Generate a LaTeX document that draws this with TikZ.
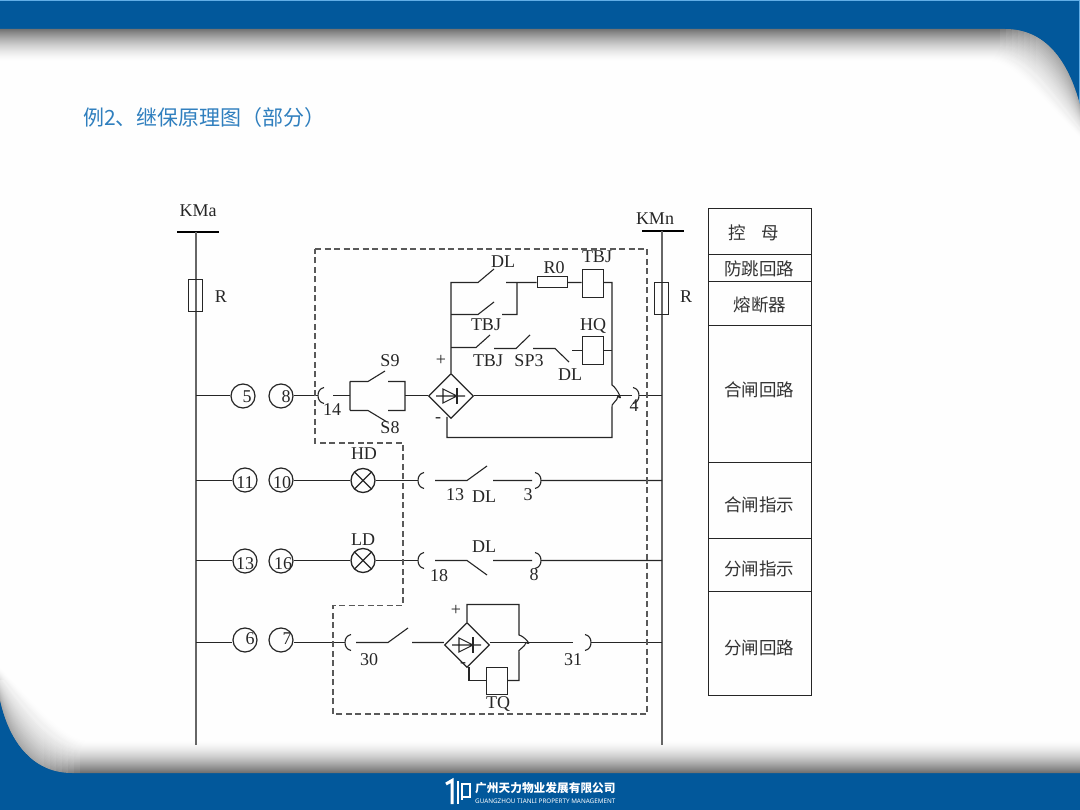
\documentclass[tikz,border=0pt]{standalone}
\usepackage{fontspec}
\setmainfont{Liberation Serif}
\newfontfamily\cjk{Noto Sans CJK SC}
\newfontfamily\latn{Noto Sans}
\usetikzlibrary{shapes.geometric, positioning, calc}
\definecolor{slideblue}{HTML}{02589B}
\definecolor{slideedge}{HTML}{62AEE6}
\definecolor{titleblue}{HTML}{2F7FBE}
\definecolor{wirecol}{HTML}{262626}
\tikzset{
  wire/.style={draw=wirecol, line width=1.1pt},
  rail/.style={draw=black!60, line width=1.6pt},
  boundary/.style={draw=black!65, line width=1.1pt, dash pattern=on 6pt off 3.5pt},
  busbar/.style={fill=black, inner sep=0pt, minimum width=42pt, minimum height=2.6pt},
  fuse/.style={draw=wirecol, line width=1pt, inner sep=0pt, minimum width=14pt, minimum height=32pt},
  relay/.style={draw=wirecol, line width=1pt, inner sep=0pt, minimum width=21pt, minimum height=28pt},
  res/.style={draw=wirecol, line width=1pt, inner sep=0pt, minimum width=30pt, minimum height=11pt},
  txt/.style={text=black!85, inner sep=0pt, font=\fontsize{18}{19}\selectfont},
  cnlabel/.style={text=black!80, inner sep=0pt, font=\cjk\fontsize{17.5}{18}\selectfont},
  tabrow/.style={draw=wirecol, line width=1pt, inner sep=0pt, minimum width=103pt},
  term/.style={circle, draw=wirecol, line width=1.2pt, inner sep=0pt, minimum size=24pt},
  lamp/.style={circle, draw=wirecol, line width=1.3pt, inner sep=0pt, minimum size=24pt, path picture={
    \draw[wirecol, line width=1.3pt] (path picture bounding box.north west) -- (path picture bounding box.south east)
      (path picture bounding box.south west) -- (path picture bounding box.north east);}},
  bridge/.style={diamond, draw=wirecol, line width=1.2pt, inner sep=0pt, minimum size=45pt, path picture={
    \draw[wirecol, line width=1.1pt, shift={(path picture bounding box.center)}]
      (-8,-7) -- (-8,7) -- (6,0) -- cycle (-15,0) -- (14,0);
    \draw[wirecol, line width=2.6pt, shift={(path picture bounding box.center)}] (6,-8) -- (6,8);}},
}
\begin{document}
\begin{tikzpicture}[x=1pt, y=-1pt]
\useasboundingbox (0,0) rectangle (1080,810);

% Slide background
\fill[slideblue] (0,0) rectangle (1080,810);
\fill[slideedge] (0,0) rectangle (1080,1.5);
\fill[slideedge] (1078.8,0) rectangle (1080,105);
\foreach \i [evaluate=\i as \s using {55*(1-\i/33)^1.6}] in {0,...,32} {
  \fill[black!\s]
    (0,29+\i) -- ({1005-.5*\i},29+\i)
    .. controls ({1045-\i},29+\i) and ({1068-\i},60+\i) .. (1080,105+\i)
    -- (1080,773-\i) -- ({72+.5*\i},773-\i)
    .. controls ({35+\i},773-\i) and ({10+\i},745-\i) .. (0,700-\i) -- cycle;
}
% Lighter shadow in the two round corners
\begin{scope}
  \clip (0,29) -- (1005,29) .. controls (1045,29) and (1068,60) .. (1080,105)
    -- (1080,773) -- (72,773) .. controls (35,773) and (10,745) .. (0,700) -- cycle;
  \foreach \j in {0,...,6} {
    \fill[white, opacity=.07] ({1000+6*\j},29) rectangle (1080,150);
    \fill[white, opacity=.07] (0,680) rectangle ({80-6*\j},773);
  }
\end{scope}

% Title and footer
\node[anchor=west, inner sep=0pt, text=titleblue, font=\cjk\fontsize{21}{22}\selectfont] (title) at (83,118) {例2、继保原理图（部分）};
\draw[white, line width=3pt] (446,784) -- (452,780.5) -- (452,804);
\draw[white, line width=2.6pt] (458,781) -- (458,804);
\draw[white, line width=2.4pt] (463,797) -- (470,797) -- (470,784) -- (462,784) -- (462,800);
\node[anchor=west, inner sep=0pt, text=white, font=\cjk\bfseries\fontsize{11.7}{12}\selectfont] (company) at (475,788.5) {广州天力物业发展有限公司};
\node[anchor=west, inner sep=0pt, text=white, font=\latn\bfseries\fontsize{6.3}{7}\selectfont] (companyen) at (475,801) {GUANGZHOU TIANLI PROPERTY MANAGEMENT};

% Bus bars and rails
\node[busbar] (kma) at (197.5,232) {};
\node[busbar] (kmn) at (662.5,231) {};
\coordinate (kmaEnd) at (196,745);
\coordinate (kmnEnd) at (662,745);
\draw[rail] (kma.center -| kmaEnd) -- (kmaEnd);
\draw[rail] (kmn.center -| kmnEnd) -- (kmnEnd);
\node[fuse] (fuseA) at (195.5,296) {};
\node[fuse] (fuseN) at (661.5,298.5) {};
\node[txt] (lblKMa) at (198,211) {KMa};
\node[txt] (lblKMn) at (655,219) {KMn};
\node[txt] (lblRa) at (221,297) {R};
\node[txt] (lblRn) at (686,297) {R};

% Side table
\node[tabrow, minimum height=46pt] (tab1) at (759.5,231.5) {};
\node[tabrow, minimum height=27pt] (tab2) at (759.5,268) {};
\node[tabrow, minimum height=44pt] (tab3) at (759.5,303.5) {};
\node[tabrow, minimum height=137pt] (tab4) at (759.5,394) {};
\node[tabrow, minimum height=76pt] (tab5) at (759.5,500.5) {};
\node[tabrow, minimum height=53pt] (tab6) at (759.5,565) {};
\node[tabrow, minimum height=104pt] (tab7) at (759.5,643.5) {};
\node[cnlabel] (txt1) at (754,233) {控\hspace{0.9em}母};
\node[cnlabel] (txt2) at (759,269) {防跳回路};
\node[cnlabel] (txt3) at (760,305) {熔断器};
\node[cnlabel] (txt4) at (759,390) {合闸回路};
\node[cnlabel] (txt5) at (759,505) {合闸指示};
\node[cnlabel] (txt6) at (759,569) {分闸指示};
\node[cnlabel] (txt7) at (759,648) {分闸回路};

% Wire points
\foreach \n/\x/\y in {
  a1/196/395.5, n1/662/395.5, a2/196/480.5, n2/662/480.5, a3/196/560.5, n3/662/560.5, a4/196/642.5, n4/662/642.5,
  sIn/333/395.5, sL/350/395.5, sLt/350/381.5, s9a/368/381.5, s9b/385/371, s9c/388/381.5, sRt/405/381.5, sR/405/395.5,
  sRb/405/410.5, s8c/388/410.5, s8b/387/422, s8a/368/410.5, sLb/350/410.5,
  hub1/451/282.5, hub2/451/314.5, hub3/451/347.5,
  k1a/478/282.5, k1b/494/269, k1c/506/282.5, k1d/517/282.5,
  k2a/478/314.5, k2b/494/302, k2c/502/314.5, k2d/517/314.5,
  k3a/476/347.5, k3b/490/335, k4a/494/348.5, k4b/516/348.5, k4c/530/335,
  k5a/533/348.5, k5b/555/348.5, k5c/569/362, hqIn/572/350.5,
  bus1/612/282.5, bus2/612/350.5, jmpA/612/385, jmpB/612/408, bus3/612/437.5, neg1/447/437.5, neg0/447/417,
  hIn/435/480.5, hb/467/480.5, hc/487/466, hd/493/480.5, hEnd/532/480.5,
  lIn/435/560.5, lb/467/560.5, lc/487/575, ld/493/560.5, lEnd/532/560.5,
  tIn/356/642.5, tb/388/642.5, tc/408/628, td/412/642.5, brOut/632/395.5,
  p1/467/604.5, p2/519/604.5, p3/519/635, p4/519/652, p5/519/680.5, m1/469/680.5, m0/469/667, jmpC/526/642.5, out4/573/642.5
} \coordinate (\n) at (\x,\y);

% Terminal hooks
\foreach \n/\x/\y/\s in {t14/318/395.5/1, t4/639/395.5/-1, t13/418/480.5/1, t3/541/480.5/-1,
  t18/418/560.5/1, t8/541/560.5/-1, t30/345/642.5/1, t31/591/642.5/-1} {
  \coordinate (\n) at (\x,\y);
  \draw[wire] ($(\n)+(\s*6,-8)$) .. controls +(\s*-4,1) and +(0,-4) .. (\n)
    .. controls +(0,4) and +(\s*-4,-1) .. ($(\n)+(\s*6,8)$);
}

% Row with the manual switches
\node[term] (c5) at (243,396) {};
\node[term] (c8) at (281,396) {};
\node[txt] (num5) at (247,397) {5};
\node[txt] (num8) at (286,397) {8};
\node[bridge] (brA) at (451,396) {};
\node[relay] (tbjCoil) at (592.5,284) {};
\node[relay] (hqCoil) at (592.5,351) {};
\node[res] (r0) at (552,282.5) {};
\draw[wire] (a1) -- (c5.west |- a1) (c8.east |- t14) -- (t14) (sIn) -- (sL);
\draw[wire] (sLt) -- (sLb) (sLt) -- (s9a) -- (s9b) (s9c) -- (sRt) -- (sRb) -- (s8c) (sLb) -- (s8a) -- (s8b);
\draw[wire] (sR) -- (brA.west |- sR);
\draw[wire] (brA.east |- brOut) -- (brOut) (t4) -- (n1);
\draw[wire] (brA.north) -- (hub1) -- (k1a) -- (k1b) (k1c) -- (k1d) -- (r0.west) (r0.east) -- (tbjCoil.west |- r0.east);
\draw[wire] (tbjCoil.east |- bus1) -- (bus1) -- (jmpA) .. controls +(5,3) and +(6,7) .. (618,396)
  .. controls +(0,5) and +(-2,-4) .. (jmpB) -- (bus3) -- (neg1) -- (neg0);
\draw[wire] (hub2) -- (k2a) -- (k2b) (k2c) -- (k2d) -- (k1d);
\draw[wire] (hub3) -- (k3a) -- (k3b) (k4a) -- (k4b) -- (k4c) (k5a) -- (k5b) -- (k5c);
\draw[wire] (hqIn) -- (hqCoil.west |- hqIn) (hqCoil.east |- bus2) -- (bus2);
\node[txt] (lblS9) at (390,361) {S9};
\node[txt] (lblS8) at (390,428) {S8};
\node[txt] (lbl14) at (332,410) {14};
\node[txt] (lbl4) at (634,406) {4};
\node[txt] (lblDLa) at (503,262) {DL};
\node[txt] (lblR0) at (554,268) {R0};
\node[txt] (lblTBJa) at (597,257) {TBJ};
\node[txt] (lblTBJb) at (486,325) {TBJ};
\node[txt] (lblTBJc) at (488,361) {TBJ};
\node[txt] (lblSP3) at (529,361) {SP3};
\node[txt] (lblHQ) at (593,326) {HQ};
\node[txt] (lblDLb) at (570,375) {DL};
\node[txt] (lblPa) at (441,360) {+};
\node[txt] (lblMa) at (438,420) {-};

% Closed indication row
\node[term] (c11) at (245,480) {};
\node[term] (c10) at (281,480) {};
\node[txt] (num11) at (245,483) {11};
\node[txt] (num10) at (282,483) {10};
\node[lamp] (hdLamp) at (363,480.5) {};
\draw[wire] (a2) -- (c11.west |- a2) (c10.east |- a2) -- (hdLamp) (hdLamp) -- (t13);
\draw[wire] (hIn) -- (hb) -- (hc) (hd) -- (hEnd) (t3) -- (n2);
\node[txt] (lblHD) at (364,454) {HD};
\node[txt] (lbl13a) at (455,495) {13};
\node[txt] (lblDLc) at (484,497) {DL};
\node[txt] (lbl3) at (528,495) {3};

% Open indication row
\node[term] (c13) at (245,561) {};
\node[term] (c16) at (281,561) {};
\node[txt] (num13) at (245,564) {13};
\node[txt] (num16) at (283,564) {16};
\node[lamp] (ldLamp) at (363,560.5) {};
\draw[wire] (a3) -- (c13.west |- a3) (c16.east |- a3) -- (ldLamp) (ldLamp) -- (t18);
\draw[wire] (lIn) -- (lb) -- (lc) (ld) -- (lEnd) (t8) -- (n3);
\node[txt] (lblLD) at (363,540) {LD};
\node[txt] (lbl18) at (439,576) {18};
\node[txt] (lblDLd) at (484,547) {DL};
\node[txt] (lbl8) at (534,575) {8};

% Trip row
\node[term] (c6) at (245,640) {};
\node[term] (c7) at (281,640) {};
\node[txt] (num6) at (250,639) {6};
\node[txt] (num7) at (287,639) {7};
\node[bridge] (brB) at (467,645) {};
\node[relay, minimum height=27pt] (tqCoil) at (496.5,680.5) {};
\draw[wire] (a4) -- (c6.west |- a4) (c7.east |- t30) -- (t30);
\draw[wire] (tIn) -- (tb) -- (tc) (td) -- (brB.west |- td);
\draw[wire] (brB.north) -- (p1) -- (p2) -- (p3) .. controls +(5,1) and +(7,4) .. (jmpC)
  .. controls +(0,4) and +(-3,-1) .. (p4) -- (p5) -- (tqCoil.east |- p5);
\draw[wire] (tqCoil.west |- m1) -- (m1) -- (m0);
\draw[wire] (brB.east |- out4) -- (out4) (t31) -- (n4);
\node[txt] (lbl30) at (369,660) {30};
\node[txt] (lbl31) at (573,660) {31};
\node[txt] (lblTQ) at (498,704) {TQ};
\node[txt] (lblPb) at (456,610) {+};
\node[txt] (lblMb) at (463,665) {-};

% Dashed boundary
\coordinate (d1) at (315,249);
\coordinate (d2) at (647,249);
\coordinate (d3) at (647,714);
\coordinate (d4) at (333,714);
\coordinate (d5) at (333,605.5);
\coordinate (d6) at (403,605.5);
\coordinate (d7) at (403,443);
\coordinate (d8) at (315,443);
\draw[boundary] (d1) -- (d2) -- (d3) -- (d4) -- (d5) -- (d6) -- (d7) -- (d8) -- cycle;
\end{tikzpicture}
\end{document}
